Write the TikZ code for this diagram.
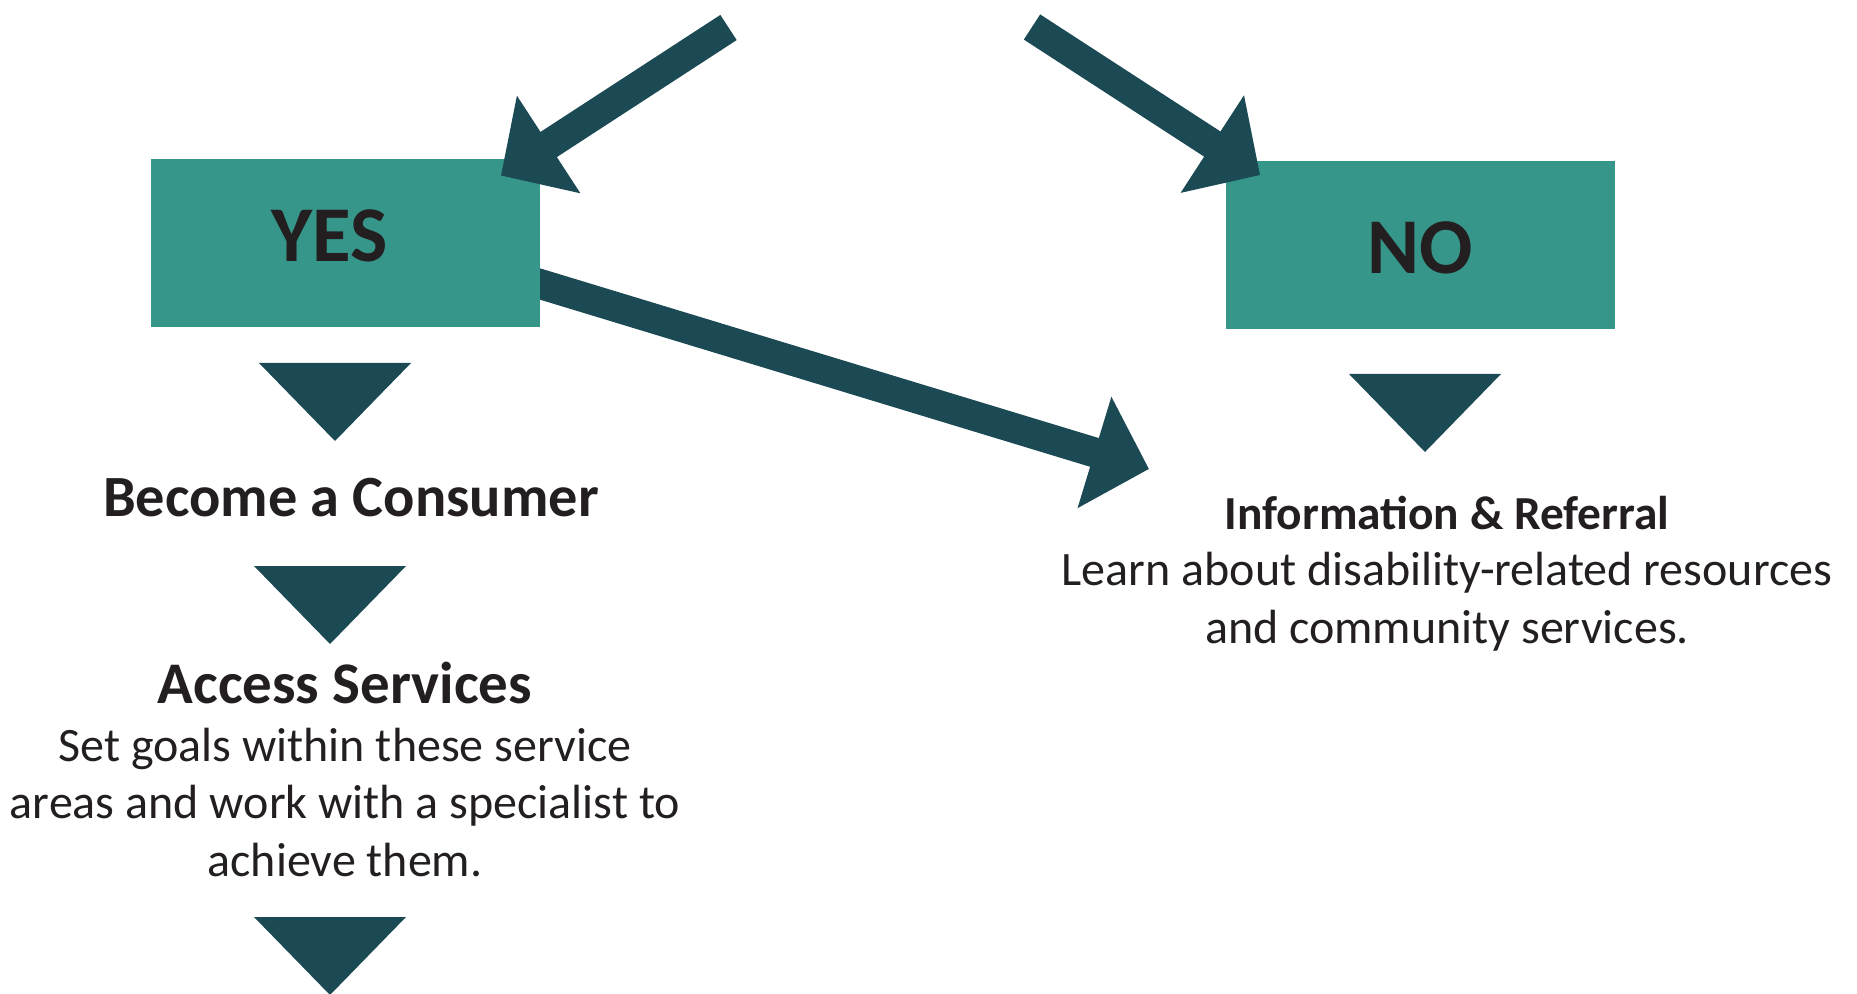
\documentclass[tikz,border=0pt]{standalone}
\usepackage{fontspec}
\setmainfont{Carlito}
\usepackage{tikz}
\usetikzlibrary{arrows.meta, positioning, calc}
\definecolor{boxgreen}{RGB}{55,150,138}
\definecolor{darkteal}{RGB}{27,74,85}
\definecolor{inkblack}{RGB}{35,31,32}
\pgfdeclarelayer{bg}
\pgfsetlayers{bg,main}

\begin{document}
\begin{tikzpicture}[x=0.5pt, y=-0.5pt,
    answer/.style={fill=boxgreen, minimum width=194.5pt, minimum height=84pt, inner sep=0pt},
    answertext/.style={text=inkblack, anchor=base, inner sep=0pt,
        font=\fontsize{39.5}{40}\selectfont\bfseries},
    heading/.style={text=inkblack, anchor=base, inner sep=0pt},
    body/.style={text=inkblack, anchor=base, inner sep=0pt, align=center,
        font=\fontsize{24}{28.75}\selectfont},
    bigarrow/.style={draw=darkteal, line width=15pt,
        -{Triangle[length=28.5pt, width=56.5pt]}}]
    \useasboundingbox (0,0) rectangle (1857,994);

    % answer boxes
    \node[answer] (yes) at (345.5,243) {};
    \node[answertext] (yeslabel) at (329.7,261.7) {YES};
    \node[answer] (no) at (1420,245.5) {};
    \node[answertext] (nolabel) at (1420,274) {NO};

    % free ends of the block arrows
    \coordinate (srcleft) at (728.5,27.5);
    \coordinate (srcright) at (1032,27);
    \coordinate (infotip) at (1149,469);

    % heads lie over the boxes, the long shaft goes under YES
    \draw[bigarrow] (srcleft) -- ($(yes.north east)+(-39.5,17)$);
    \draw[bigarrow] (srcright) -- ($(no.north west)+(35,14)$);
    \begin{pgfonlayer}{bg}
        \draw[bigarrow] ($(yes.east)+(-30,32)$) -- (infotip);
    \end{pgfonlayer}

    % step markers
    \foreach \x/\y in {
        335/363,   % under YES
        330/566,   % under Become a Consumer
        330/917,   % under Access Services
        1425/374}  % under NO
        \fill[darkteal] (\x-76,\y) -- (\x+76,\y) -- (\x,\y+78) -- cycle;

    % texts (base of a body node is its last line)
    \node[heading, font=\fontsize{29.2}{34}\selectfont\bfseries] (become)
        at (351,516) {Become a Consumer};
    \node[heading, font=\fontsize{29.5}{34}\selectfont\bfseries] (access)
        at (345,703) {Access Services};
    \node[body] (accessbody) at (345,876)
        {Set goals within these service\\areas and work with a specialist to\\achieve them.};
    \node[heading, font=\fontsize{23.7}{28}\selectfont\bfseries] (info)
        at (1447,529) {Information \& Referral};
    \node[body] (infobody) at (1447,643)
        {Learn about disability-related resources\\and community services.};

\end{tikzpicture}
\end{document}
